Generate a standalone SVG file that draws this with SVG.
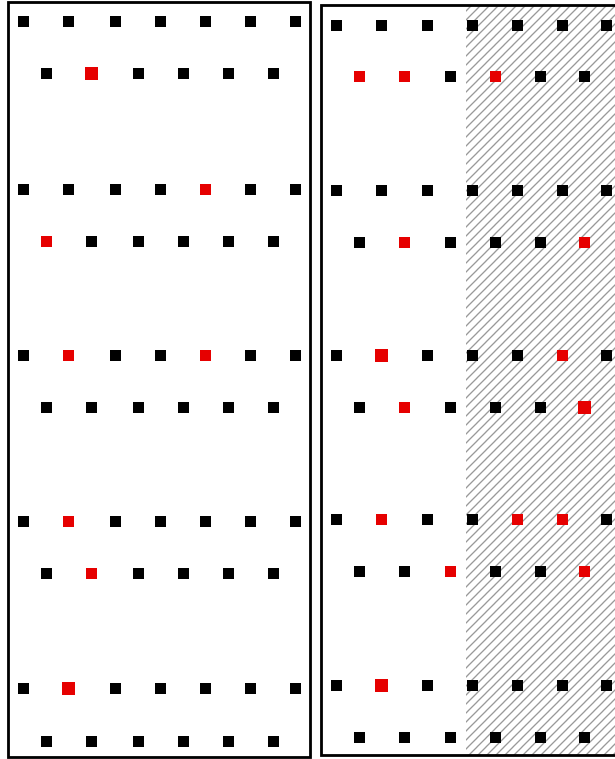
<svg xmlns="http://www.w3.org/2000/svg" width="615" height="759" viewBox="0 0 615 759">
<defs>
<style>
.k{fill:#000}
.r{fill:#e60000}
.frame{fill:none;stroke:#000;stroke-width:2.8}
</style>
<pattern id="hatch" patternUnits="userSpaceOnUse" width="9" height="9">
<path d="M-1,1 L1,-1 M0,9 L9,0 M8,10 L10,8" stroke="#999" stroke-width="1.3"/>
</pattern>
</defs>
<rect width="615" height="759" fill="#fff"/>
<g id="panel-left">
<rect class="frame" x="8.5" y="2.5" width="302" height="755"/>
<g id="left-row-a1">
<rect class="k" x="18" y="16" width="11" height="11"/><rect class="k" x="63" y="16" width="11" height="11"/><rect class="k" x="110" y="16" width="11" height="11"/><rect class="k" x="155" y="16" width="11" height="11"/><rect class="k" x="200" y="16" width="11" height="11"/><rect class="k" x="245" y="16" width="11" height="11"/><rect class="k" x="290" y="16" width="11" height="11"/>
</g>
<g id="left-row-b1">
<rect class="k" x="41" y="68" width="11" height="11"/><rect class="r" x="85" y="67" width="13" height="13"/><rect class="k" x="133" y="68" width="11" height="11"/><rect class="k" x="178" y="68" width="11" height="11"/><rect class="k" x="223" y="68" width="11" height="11"/><rect class="k" x="268" y="68" width="11" height="11"/>
</g>
<g id="left-row-a2">
<rect class="k" x="18" y="184" width="11" height="11"/><rect class="k" x="63" y="184" width="11" height="11"/><rect class="k" x="110" y="184" width="11" height="11"/><rect class="k" x="155" y="184" width="11" height="11"/><rect class="r" x="200" y="184" width="11" height="11"/><rect class="k" x="245" y="184" width="11" height="11"/><rect class="k" x="290" y="184" width="11" height="11"/>
</g>
<g id="left-row-b2">
<rect class="r" x="41" y="236" width="11" height="11"/><rect class="k" x="86" y="236" width="11" height="11"/><rect class="k" x="133" y="236" width="11" height="11"/><rect class="k" x="178" y="236" width="11" height="11"/><rect class="k" x="223" y="236" width="11" height="11"/><rect class="k" x="268" y="236" width="11" height="11"/>
</g>
<g id="left-row-a3">
<rect class="k" x="18" y="350" width="11" height="11"/><rect class="r" x="63" y="350" width="11" height="11"/><rect class="k" x="110" y="350" width="11" height="11"/><rect class="k" x="155" y="350" width="11" height="11"/><rect class="r" x="200" y="350" width="11" height="11"/><rect class="k" x="245" y="350" width="11" height="11"/><rect class="k" x="290" y="350" width="11" height="11"/>
</g>
<g id="left-row-b3">
<rect class="k" x="41" y="402" width="11" height="11"/><rect class="k" x="86" y="402" width="11" height="11"/><rect class="k" x="133" y="402" width="11" height="11"/><rect class="k" x="178" y="402" width="11" height="11"/><rect class="k" x="223" y="402" width="11" height="11"/><rect class="k" x="268" y="402" width="11" height="11"/>
</g>
<g id="left-row-a4">
<rect class="k" x="18" y="516" width="11" height="11"/><rect class="r" x="63" y="516" width="11" height="11"/><rect class="k" x="110" y="516" width="11" height="11"/><rect class="k" x="155" y="516" width="11" height="11"/><rect class="k" x="200" y="516" width="11" height="11"/><rect class="k" x="245" y="516" width="11" height="11"/><rect class="k" x="290" y="516" width="11" height="11"/>
</g>
<g id="left-row-b4">
<rect class="k" x="41" y="568" width="11" height="11"/><rect class="r" x="86" y="568" width="11" height="11"/><rect class="k" x="133" y="568" width="11" height="11"/><rect class="k" x="178" y="568" width="11" height="11"/><rect class="k" x="223" y="568" width="11" height="11"/><rect class="k" x="268" y="568" width="11" height="11"/>
</g>
<g id="left-row-a5">
<rect class="k" x="18" y="683" width="11" height="11"/><rect class="r" x="62" y="682" width="13" height="13"/><rect class="k" x="110" y="683" width="11" height="11"/><rect class="k" x="155" y="683" width="11" height="11"/><rect class="k" x="200" y="683" width="11" height="11"/><rect class="k" x="245" y="683" width="11" height="11"/><rect class="k" x="290" y="683" width="11" height="11"/>
</g>
<g id="left-row-b5">
<rect class="k" x="41" y="736" width="11" height="11"/><rect class="k" x="86" y="736" width="11" height="11"/><rect class="k" x="133" y="736" width="11" height="11"/><rect class="k" x="178" y="736" width="11" height="11"/><rect class="k" x="223" y="736" width="11" height="11"/><rect class="k" x="268" y="736" width="11" height="11"/>
</g>
</g>
<g id="panel-right">
<rect x="466" y="6" width="150" height="749" fill="url(#hatch)"/>
<rect class="frame" x="321.5" y="5.5" width="400" height="750"/>
<g id="right-row-a1">
<rect class="k" x="331" y="20" width="11" height="11"/><rect class="k" x="376" y="20" width="11" height="11"/><rect class="k" x="422" y="20" width="11" height="11"/><rect class="k" x="467" y="20" width="11" height="11"/><rect class="k" x="512" y="20" width="11" height="11"/><rect class="k" x="557" y="20" width="11" height="11"/><rect class="k" x="601" y="20" width="11" height="11"/>
</g>
<g id="right-row-b1">
<rect class="r" x="354" y="71" width="11" height="11"/><rect class="r" x="399" y="71" width="11" height="11"/><rect class="k" x="445" y="71" width="11" height="11"/><rect class="r" x="490" y="71" width="11" height="11"/><rect class="k" x="535" y="71" width="11" height="11"/><rect class="k" x="579" y="71" width="11" height="11"/>
</g>
<g id="right-row-a2">
<rect class="k" x="331" y="185" width="11" height="11"/><rect class="k" x="376" y="185" width="11" height="11"/><rect class="k" x="422" y="185" width="11" height="11"/><rect class="k" x="467" y="185" width="11" height="11"/><rect class="k" x="512" y="185" width="11" height="11"/><rect class="k" x="557" y="185" width="11" height="11"/><rect class="k" x="601" y="185" width="11" height="11"/>
</g>
<g id="right-row-b2">
<rect class="k" x="354" y="237" width="11" height="11"/><rect class="r" x="399" y="237" width="11" height="11"/><rect class="k" x="445" y="237" width="11" height="11"/><rect class="k" x="490" y="237" width="11" height="11"/><rect class="k" x="535" y="237" width="11" height="11"/><rect class="r" x="579" y="237" width="11" height="11"/>
</g>
<g id="right-row-a3">
<rect class="k" x="331" y="350" width="11" height="11"/><rect class="r" x="375" y="349" width="13" height="13"/><rect class="k" x="422" y="350" width="11" height="11"/><rect class="k" x="467" y="350" width="11" height="11"/><rect class="k" x="512" y="350" width="11" height="11"/><rect class="r" x="557" y="350" width="11" height="11"/><rect class="k" x="601" y="350" width="11" height="11"/>
</g>
<g id="right-row-b3">
<rect class="k" x="354" y="402" width="11" height="11"/><rect class="r" x="399" y="402" width="11" height="11"/><rect class="k" x="445" y="402" width="11" height="11"/><rect class="k" x="490" y="402" width="11" height="11"/><rect class="k" x="535" y="402" width="11" height="11"/><rect class="r" x="578" y="401" width="13" height="13"/>
</g>
<g id="right-row-a4">
<rect class="k" x="331" y="514" width="11" height="11"/><rect class="r" x="376" y="514" width="11" height="11"/><rect class="k" x="422" y="514" width="11" height="11"/><rect class="k" x="467" y="514" width="11" height="11"/><rect class="r" x="512" y="514" width="11" height="11"/><rect class="r" x="557" y="514" width="11" height="11"/><rect class="k" x="601" y="514" width="11" height="11"/>
</g>
<g id="right-row-b4">
<rect class="k" x="354" y="566" width="11" height="11"/><rect class="k" x="399" y="566" width="11" height="11"/><rect class="r" x="445" y="566" width="11" height="11"/><rect class="k" x="490" y="566" width="11" height="11"/><rect class="k" x="535" y="566" width="11" height="11"/><rect class="r" x="579" y="566" width="11" height="11"/>
</g>
<g id="right-row-a5">
<rect class="k" x="331" y="680" width="11" height="11"/><rect class="r" x="375" y="679" width="13" height="13"/><rect class="k" x="422" y="680" width="11" height="11"/><rect class="k" x="467" y="680" width="11" height="11"/><rect class="k" x="512" y="680" width="11" height="11"/><rect class="k" x="557" y="680" width="11" height="11"/><rect class="k" x="601" y="680" width="11" height="11"/>
</g>
<g id="right-row-b5">
<rect class="k" x="354" y="732" width="11" height="11"/><rect class="k" x="399" y="732" width="11" height="11"/><rect class="k" x="445" y="732" width="11" height="11"/><rect class="k" x="490" y="732" width="11" height="11"/><rect class="k" x="535" y="732" width="11" height="11"/><rect class="k" x="579" y="732" width="11" height="11"/>
</g>
</g>
<g id="connectors"/>
</svg>
